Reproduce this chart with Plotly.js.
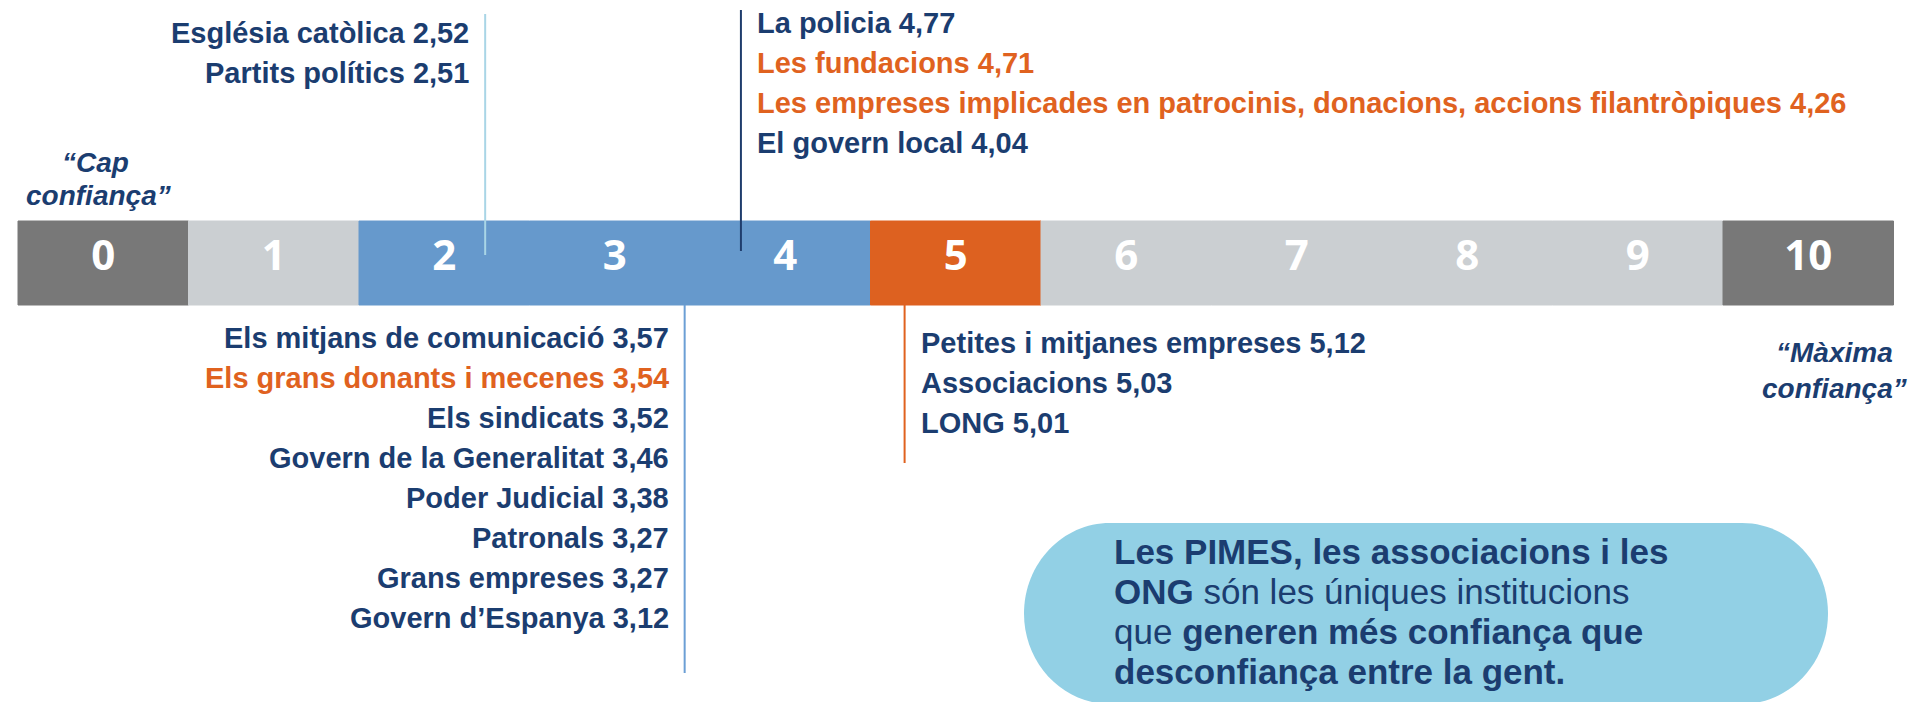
<!DOCTYPE html>
<html><head><meta charset="utf-8">
<script src="https://cdn.plot.ly/plotly-3.0.1.min.js"></script>
<style>html,body{margin:0;padding:0;background:#fff}</style>
</head><body><div id="chart" style="width:1932px;height:702px"></div>
<script>
// ---- data ----
const scaleSteps = [0,1,2,3,4,5,6,7,8,9,10];
const scaleLabels = ["0","1","2","3","4","5","6","7","8","9","10"];
const aboveLeftNames = ["Església catòlica","Partits polítics"];
const aboveLeftValues = [2.52,2.51];
const aboveRightNames = ["La policia","Les fundacions","Les empreses implicades en patrocinis, donacions, accions filantròpiques","El govern local"];
const aboveRightValues = [4.77,4.71,4.26,4.04];
const belowLeftNames = ["Els mitjans de comunicació","Els grans donants i mecenes","Els sindicats","Govern de la Generalitat","Poder Judicial","Patronals","Grans empreses","Govern d’Espanya"];
const belowLeftValues = [3.57,3.54,3.52,3.46,3.38,3.27,3.27,3.12];
const belowRightNames = ["Petites i mitjanes empreses","Associacions","LONG"];
const belowRightValues = [5.12,5.03,5.01];
const philanthropic = ["Les fundacions","Les empreses implicades en patrocinis, donacions, accions filantròpiques","Els grans donants i mecenes"];
// where each group's leader line meets the scale
const anchorAboveLeft = 2.24, anchorAboveRight = 3.74, anchorBelowLeft = 3.41, anchorBelowRight = 4.70;

// ---- styles ----
const NAVY = "#1b3d70", ORANGE = "#e0621f";
const DGRAY = "#787878", LGRAY = "#cbcfd2", BLUE = "#6699cc", ORG = "#dd6120";
const stepColors = [DGRAY,LGRAY,BLUE,BLUE,BLUE,ORG,LGRAY,LGRAY,LGRAY,LGRAY,DGRAY];
const W = 1932, H = 702, X0 = 18, UNIT = 170.5;
const px2u = p => (p - X0) / UNIT - 0.5;
const fmt = v => v.toFixed(2).replace('.', ',');
const LABF = "Liberation Sans, Arial, sans-serif";
const BAR_TOP = 221, BAR_BOT = 305;

const traces = [];
traces.push({type:'bar', x:scaleSteps, y:scaleSteps.map(()=>BAR_TOP-BAR_BOT), base:BAR_BOT,
  width:1, marker:{color:stepColors, line:{width:1, color:stepColors}}, hoverinfo:'skip'});
traces.push({type:'scatter', mode:'text', x:scaleSteps, y:scaleSteps.map(()=>259), text:scaleLabels,
  textfont:{family:"Open Sans, sans-serif", size:42, color:'#ffffff', weight:700}, hoverinfo:'skip'});
function vline(x, y0, y1, color){
  traces.push({type:'scatter', mode:'lines', x:[x,x], y:[y0,y1], line:{color:color, width:2}, hoverinfo:'skip'});
}
vline(anchorAboveLeft, 14, 255, "#a9d5e6");
vline(anchorAboveRight, 10, 251, "#1f3d6c");
vline(anchorBelowLeft, BAR_BOT, 673, "#6c9fd5");
vline(anchorBelowRight, BAR_BOT, 463, "#e0621f");

const ann = [];
function group(names, values, anchor, side, y0){
  names.forEach((n,i)=>{
    ann.push({xref:'x', yref:'y', x:anchor, y:y0 + 40*i, xshift: side==='left' ? -15 : 15,
      xanchor: side==='left' ? 'right' : 'left', yanchor:'middle', showarrow:false, borderpad:0,
      text: n + ' ' + fmt(values[i]),
      font:{family:LABF, size:29, weight:700, color: philanthropic.includes(n) ? ORANGE : NAVY}});
  });
}
group(aboveLeftNames, aboveLeftValues, anchorAboveLeft, 'left', 33);
group(aboveRightNames, aboveRightValues, anchorAboveRight, 'right', 23);
group(belowLeftNames, belowLeftValues, anchorBelowLeft, 'left', 338);
group(belowRightNames, belowRightValues, anchorBelowRight, 'right', 343);

function quote(t, px, py){
  ann.push({xref:'x', yref:'y', x:px2u(px), y:py, xanchor:'center', yanchor:'middle', showarrow:false, borderpad:0,
    text:'<i>'+t+'</i>', font:{family:LABF, size:28, weight:700, color:NAVY}});
}
quote('“Cap', 95, 162); quote('confiança”', 98, 195);
quote('“Màxima', 1834, 352); quote('confiança”', 1834, 388);

const pillLines = [
  "<b>Les PIMES, les associacions i les</b>",
  "<b>ONG</b> són les úniques institucions",
  "que <b>generen més confiança que</b>",
  "<b>desconfiança entre la gent.</b>"
];
pillLines.forEach((t,i)=>{
  ann.push({xref:'x', yref:'y', x:px2u(1113), y:551 + 40*i, xanchor:'left', yanchor:'middle', showarrow:false, borderpad:0,
    text:t, font:{family:LABF, size:35, color:NAVY}});
});

// pill (stadium) path
const L=1024, R=1828, T=523, B=704, rx=86, ry=90.5, k=0.5523;
const P = (x,y)=> px2u(x)+','+y;
const path = 'M '+P(L+rx,T)+' L '+P(R-rx,T)+
 ' C '+P(R-rx+k*rx,T)+' '+P(R,T+ry-k*ry)+' '+P(R,T+ry)+
 ' L '+P(R,B-ry)+
 ' C '+P(R,B-ry+k*ry)+' '+P(R-rx+k*rx,B)+' '+P(R-rx,B)+
 ' L '+P(L+rx,B)+
 ' C '+P(L+rx-k*rx,B)+' '+P(L,B-ry+k*ry)+' '+P(L,B-ry)+
 ' L '+P(L,T+ry)+
 ' C '+P(L,T+ry-k*ry)+' '+P(L+rx-k*rx,T)+' '+P(L+rx,T)+' Z';

const layout = {
  width:W, height:H, margin:{l:0,r:0,t:0,b:0}, paper_bgcolor:'#fff', plot_bgcolor:'#fff',
  showlegend:false,
  xaxis:{range:[px2u(0), px2u(W)], visible:false, fixedrange:true},
  yaxis:{range:[H,0], visible:false, fixedrange:true},
  annotations:ann,
  shapes:[{type:'path', xref:'x', yref:'y', path:path, fillcolor:'#92d0e5', line:{width:0}, layer:'below'}]
};
Plotly.newPlot('chart', traces, layout, {displayModeBar:false, staticPlot:true});
</script></body></html>
